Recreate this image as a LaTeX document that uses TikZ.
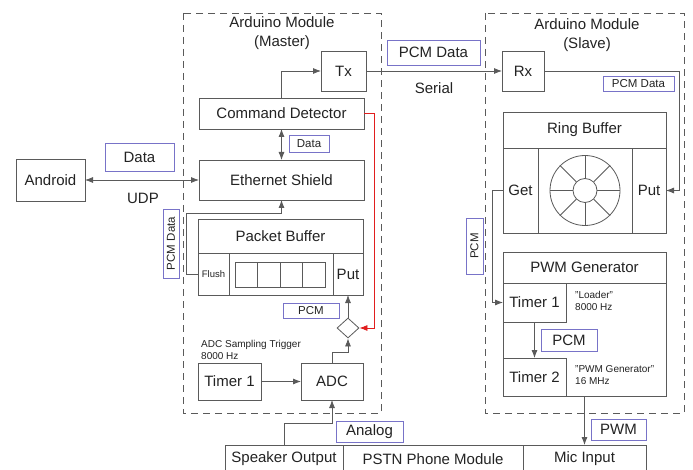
\documentclass[tikz,border=0pt]{standalone}
\usepackage{fontspec}
\setmainfont{Liberation Sans}
\usetikzlibrary{arrows.meta, shapes.geometric}
\definecolor{lineGray}{RGB}{90,90,90}
\definecolor{labelBlue}{RGB}{120,115,200}
\definecolor{textBlack}{RGB}{35,35,35}
\definecolor{signalRed}{RGB}{225,30,30}
\tikzstyle{diagram} = [x = 1pt, y = -1pt, every node/.style={text=textBlack}]
\tikzstyle{blockStyle} = [draw=lineGray, fill=white, line width=0.8pt, inner sep=0, outer sep=0, font=\fontsize{15}{17}\selectfont]
\tikzstyle{tagStyle} = [draw=labelBlue, fill=white, line width=0.8pt, inner sep=0, outer sep=0, font=\fontsize{15}{17}\selectfont]
\tikzstyle{moduleStyle} = [draw=lineGray, line width=0.8pt, dash pattern=on 7pt off 5pt]
\tikzstyle{flowLine} = [draw=lineGray, line width=0.8pt, -{Latex[length=8pt, width=6pt]}]
\tikzstyle{bothLine} = [draw=lineGray, line width=0.8pt, {Latex[length=8pt, width=6pt]}-{Latex[length=8pt, width=6pt]}]
\tikzstyle{smallText} = [font=\fontsize{11.5}{13}\selectfont]
\tikzstyle{noteText} = [font=\fontsize{10}{12}\selectfont, align=left, anchor=west, inner sep=0]
\newcommand{\namedBlock}[7][]{\node [blockStyle, minimum width={(#5-#3)*1pt}, minimum height={(#6-#4)*1pt}, #1] (#2) at ({(#3+#5)/2}, {(#4+#6)/2}) {#7};}
\newcommand{\tagBox}[7][]{\node [tagStyle, minimum width={(#5-#3)*1pt}, minimum height={(#6-#4)*1pt}, #1] (#2) at ({(#3+#5)/2}, {(#4+#6)/2}) {#7};}
\newcommand{\vTagBox}[6]{\node [tagStyle, smallText, rotate=90, minimum width={(#5-#3)*1pt}, minimum height={(#4-#2)*1pt}] (#1) at ({(#2+#4)/2}, {(#3+#5)/2}) {#6};}

\begin{document}
\begin{tikzpicture}[diagram]
\useasboundingbox (0,0) rectangle (693,470);
\fill [white] (0,0) rectangle (693,470);
% modules
\draw [moduleStyle] (183,13) rectangle (381,413);
\draw [moduleStyle] (485,13) rectangle (684,413);
\node [font=\fontsize{15}{19}\selectfont, align=center] (masterTitle) at (282,33) {Arduino Module\\(Master)};
\node [font=\fontsize{15}{19}\selectfont, align=center] (slaveTitle) at (587,35) {Arduino Module\\(Slave)};
% master blocks
\namedBlock{android}{16}{159}{85}{201}{Android}
\namedBlock{tx}{321}{51}{366}{91}{Tx}
\namedBlock{cmd}{199}{98}{364}{129}{Command Detector}
\namedBlock{eth}{199}{160}{364}{200}{Ethernet Shield}
\namedBlock{pbuf}{198}{219}{363}{253}{Packet Buffer}
\namedBlock[font=\fontsize{9.5}{11}\selectfont]{flush}{198}{253}{229}{295}{Flush}
\namedBlock{queue}{229}{253}{333}{295}{}
\namedBlock{putA}{333}{253}{363}{295}{Put}
\foreach \cell in {0,...,3} {
  \draw [lineGray, line width=0.8pt] (235+22.5*\cell, 262) rectangle +(22.5, 25);
}
\node [diamond, draw=lineGray, line width=0.8pt, fill=white, inner sep=0, minimum width=22pt, minimum height=20pt] (merge) at (348,328) {};
\namedBlock{timerA}{198}{363}{261}{400}{Timer 1}
\namedBlock{adc}{301}{363}{363}{400}{ADC}
\node [noteText] (trigger) at (201,350) {ADC Sampling Trigger\\8000 Hz};
% slave blocks
\namedBlock{rx}{502}{51}{544}{91}{Rx}
\namedBlock{ring}{503}{112}{666}{148}{Ring Buffer}
\namedBlock{getB}{503}{148}{538}{233}{Get}
\namedBlock{ringMid}{538}{148}{632}{233}{}
\namedBlock{putB}{632}{148}{666}{233}{Put}
\node [circle, draw=lineGray, line width=0.8pt, minimum size=70pt] (ringOuter) at (ringMid) {};
\node [circle, draw=lineGray, line width=0.8pt, minimum size=24pt] (ringInner) at (ringMid) {};
\foreach \angle in {0,45,...,315} {
  \draw [lineGray, line width=0.8pt] (ringInner.\angle) -- (ringOuter.\angle);
}
\namedBlock{pwm}{503}{252}{666}{283}{PWM Generator}
\namedBlock{pwmBody}{503}{283}{666}{396}{}
\namedBlock{timerB}{503}{283}{566}{322}{Timer 1}
\namedBlock{timerC}{503}{358}{566}{396}{Timer 2}
\node [noteText] (loader) at (575,301) {"Loader"\\8000 Hz};
\node [noteText] (pwmNote) at (575,375) {"PWM Generator"\\16 MHz};
% phone module
\namedBlock{speaker}{225}{445}{343}{473}{Speaker Output}
\namedBlock{pstn}{343}{445}{523}{473}{PSTN Phone Module}
\namedBlock{mic}{523}{445}{646}{473}{Mic Input}
% labels
\tagBox{dataTag}{105}{143}{174}{171}{Data}
\node (udp) at (143,198) [font=\fontsize{15}{17}\selectfont] {UDP};
\tagBox[smallText]{cmdTag}{289}{135}{329}{152}{Data}
\vTagBox{pcmDataTag}{163}{209}{179}{278}{PCM Data}
\tagBox[smallText]{pcmTagA}{283}{303}{339}{318}{PCM}
\tagBox{serialTag}{387}{40}{480}{65}{PCM Data}
\node (serial) at (434,88) [font=\fontsize{15}{17}\selectfont] {Serial};
\tagBox[smallText]{rxTag}{603}{76}{674}{91}{PCM Data}
\vTagBox{pcmTagB}{466}{218}{483}{274}{PCM}
\tagBox{pcmTagC}{541}{329}{597}{351}{PCM}
\tagBox{analogTag}{336}{421}{403}{442}{Analog}
\tagBox{pwmTag}{591}{419}{646}{440}{PWM}
% connectors
\coordinate (flushTurn) at (186,213);
\coordinate (adcTurn) at (348,352);
\coordinate (redTurn) at (374,328);
\coordinate (spkTurn) at (284,423);
\coordinate (rxTurn) at (679,71);
\coordinate (getTurn) at (492,190.5);
\draw [flowLine] (cmd.north) |- (tx.west);
\draw [bothLine] (cmd.south) -- (eth.north);
\draw [bothLine] (android.east) -- (eth.west);
\draw [flowLine] (flush.west) -| (flushTurn) -| (eth.south);
\draw [flowLine] (merge.north) -- (putA.south);
\draw [flowLine] (adc.north) |- (adcTurn) -- (merge.south);
\draw [flowLine, draw=signalRed, -{Latex[length=8pt, width=6pt, fill=signalRed]}] (cmd.east) -| (redTurn) -- (merge.east);
\draw [flowLine] (timerA.east) -- (adc.west);
\draw [flowLine] (speaker.north) -- (spkTurn) -| (adc.south);
\draw [flowLine] (tx.east) -- (rx.west);
\draw [flowLine] (rx.east) -- (rxTurn) |- (putB.east);
\draw [flowLine] (getB.west) -- (getTurn) |- (timerB.west);
\draw [flowLine] (timerB.south) -- (timerC.north);
\draw [flowLine] (pwmBody.south) -- (mic.north);
\end{tikzpicture}
\end{document}
